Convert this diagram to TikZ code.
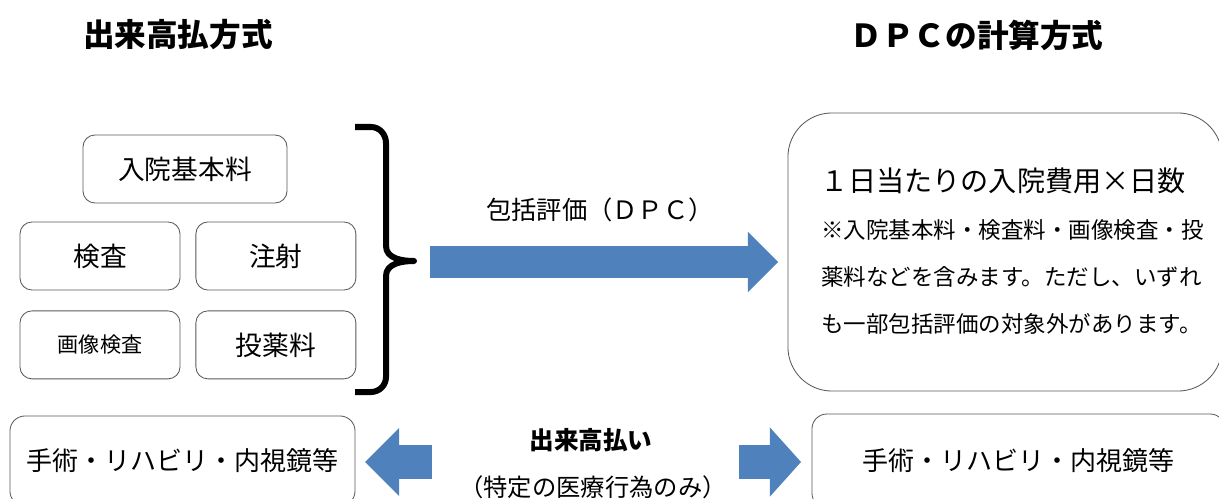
\documentclass[tikz,border=0pt]{standalone}
\usepackage{fontspec}
\setmainfont{Noto Sans CJK JP}
\usetikzlibrary{positioning,arrows.meta}
\definecolor{dpcblue}{RGB}{79,129,189}
\tikzstyle{item} = [draw=black!65, line width=0.6pt, rounded corners=0.3cm, minimum width=4cm, minimum height=1.7cm, inner sep=0pt, font=\fontsize{19}{23}\selectfont]
\tikzstyle{bigbox} = [draw=black!65, line width=0.6pt, inner sep=0pt]
\tikzstyle{blockarrow} = [draw=dpcblue]

\begin{document}
\begin{tikzpicture}[x=0.025cm,y=-0.025cm]
    \useasboundingbox (0,0) rectangle (1219,499);
    % titles
    \node (titleffs) at (178,35) {\fontsize{22.5}{26}\selectfont\bfseries 出来高払方式};
    \node (titledpc) at (977,35) {\fontsize{22.5}{26}\selectfont\bfseries ＤＰＣの計算方式};
    % create the nodes
    \node (kensa) [item] at (100,256) {検査};
    \node (chusha) [item, right=0.375cm of kensa] {注射};
    \node (gazo) [item, below=0.5cm of kensa, font=\fontsize{15}{18}\selectfont] {画像検査};
    \node (toyaku) [item, below=0.5cm of chusha] {投薬料};
    \node (nyuin) [item, minimum width=5.1cm] at (185,169) {入院基本料};
    \node (dpcbox) [bigbox, rounded corners=1.1cm, minimum width=10.85cm, minimum height=6.95cm] at (1005,252) {};
    \node (dpcmain) at (1003,181) {\fontsize{20}{24}\selectfont １日当たりの入院費用×日数};
    \node (dpcnote) [anchor=west, align=left, inner sep=0pt, font=\fontsize{16}{33.4}\selectfont] at (821,277) {※入院基本料・検査料・画像検査・投\\薬料などを含みます。ただし、いずれ\\も一部包括評価の対象外があります。};
    \node (surgffs) [bigbox, rounded corners=0.375cm, minimum width=8.625cm, minimum height=2.25cm, font=\fontsize{18.5}{22}\selectfont] at (182.5,461) {手術・リハビリ・内視鏡等};
    \node (surgdpc) [bigbox, rounded corners=0.375cm, minimum width=10.325cm, minimum height=2.35cm, font=\fontsize{18.5}{22}\selectfont] at (1018.5,461) {手術・リハビリ・内視鏡等};
    \node (lblpack) at (600,210) {\fontsize{18}{22}\selectfont 包括評価（ＤＰＣ）};
    \node (lblffs) at (591,440) {\fontsize{17.5}{21}\selectfont\bfseries 出来高払い};
    \node (lblonly) at (593,487) {\fontsize{17.3}{21}\selectfont （特定の医療行為のみ）};
    % the brace
    \draw[line width=0.15cm, line join=round] (355,127) -- (371,127) to[out=0,in=90] (386,143) -- (386,246) to[out=-90,in=180] (414,261) to[out=180,in=90] (386,276) -- (386,377) to[out=-90,in=0] (371,392) -- (355,392);
    % connect the nodes
    \coordinate (packfrom) at (430,262);
    \coordinate (packto) at (778,262);
    \coordinate (ffsfrom) at (432,462);
    \coordinate (ffsto) at (365,462);
    \coordinate (dpcfrom) at (739,462);
    \coordinate (dpcto) at (801,462);
    \draw[blockarrow, line width=0.775cm, -{Triangle[length=0.75cm,width=1.5cm,line width=0pt]}] (packfrom) -- (packto);
    \draw[blockarrow, line width=0.85cm, -{Triangle[length=0.85cm,width=1.7cm,line width=0pt]}] (ffsfrom) -- (ffsto);
    \draw[blockarrow, line width=0.85cm, -{Triangle[length=0.775cm,width=1.725cm,line width=0pt]}] (dpcfrom) -- (dpcto);
\end{tikzpicture}
\end{document}
